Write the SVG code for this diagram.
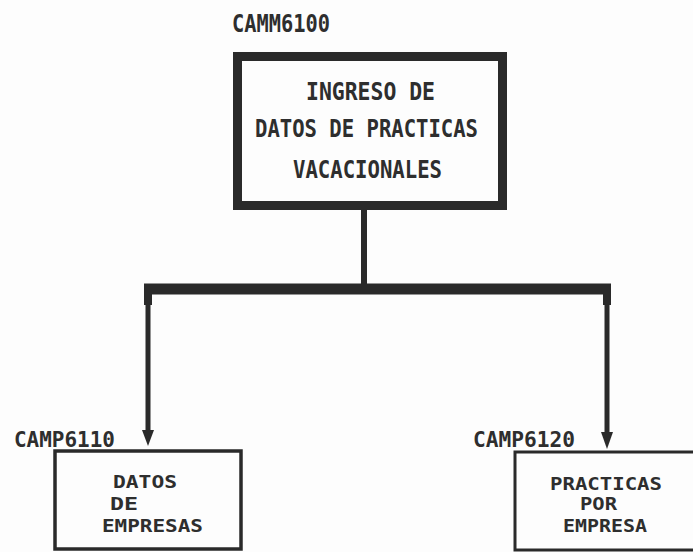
<svg xmlns="http://www.w3.org/2000/svg" width="693" height="552" viewBox="0 0 693 552">
<style>
text{font-family:"DejaVu Sans Mono","Liberation Mono",monospace;font-weight:bold;fill:#2e2e2e;}
.big{font-size:24px;}
.lbl{font-size:22px;}
.sm{font-size:18.5px;}
.box{fill:none;stroke:#2a2a2a;}
.con{stroke:#2a2a2a;fill:none;stroke-linecap:butt;}
.ah{fill:#2a2a2a;}
</style>
<rect width="693" height="552" fill="#fdfdfd"/>
<g id="connectors">
<line class="con" x1="364" y1="210" x2="364" y2="290" stroke-width="6"/>
<line class="con" x1="144" y1="289" x2="611" y2="289" stroke-width="11"/>
<line class="con" x1="148" y1="284" x2="148" y2="305" stroke-width="8"/>
<line class="con" x1="607" y1="284" x2="607" y2="305" stroke-width="8"/>
<path class="con" d="M148,300 L148,434" stroke-width="5"/>
<path class="ah" d="M142,430 L154,430 L148,446 Z"/>
<path class="con" d="M607,300 L607,436" stroke-width="5"/>
<path class="ah" d="M601,432 L613,432 L607,449 Z"/>
</g>
<g id="camm6100">
<text class="big" x="232" y="32" textLength="98" lengthAdjust="spacingAndGlyphs">CAMM6100</text>
<rect class="box" x="237.5" y="56.5" width="265" height="149" stroke-width="9"/>
<text class="big" x="306" y="100" textLength="129" lengthAdjust="spacingAndGlyphs">INGRESO DE</text>
<text class="big" x="255" y="137" textLength="223" lengthAdjust="spacingAndGlyphs">DATOS DE PRACTICAS</text>
<text class="big" x="293" y="178" textLength="149" lengthAdjust="spacingAndGlyphs">VACACIONALES</text>
</g>
<g id="camp6110">
<text class="lbl" x="14" y="447" textLength="101" lengthAdjust="spacingAndGlyphs">CAMP6110</text>
<rect class="box" x="55" y="451" width="186" height="98" stroke-width="3.5"/>
<text class="sm" x="113" y="488" textLength="64" lengthAdjust="spacingAndGlyphs">DATOS</text>
<text class="sm" x="110" y="510" textLength="28" lengthAdjust="spacingAndGlyphs">DE</text>
<text class="sm" x="102" y="532" textLength="101" lengthAdjust="spacingAndGlyphs">EMPRESAS</text>
</g>
<g id="camp6120">
<text class="lbl" x="473" y="447" textLength="102" lengthAdjust="spacingAndGlyphs">CAMP6120</text>
<rect class="box" x="515" y="452" width="200" height="98" stroke-width="3"/>
<text class="sm" x="550" y="490" textLength="112" lengthAdjust="spacingAndGlyphs">PRACTICAS</text>
<text class="sm" x="580" y="510" textLength="37" lengthAdjust="spacingAndGlyphs">POR</text>
<text class="sm" x="563" y="532" textLength="84" lengthAdjust="spacingAndGlyphs">EMPRESA</text>
</g>
</svg>
